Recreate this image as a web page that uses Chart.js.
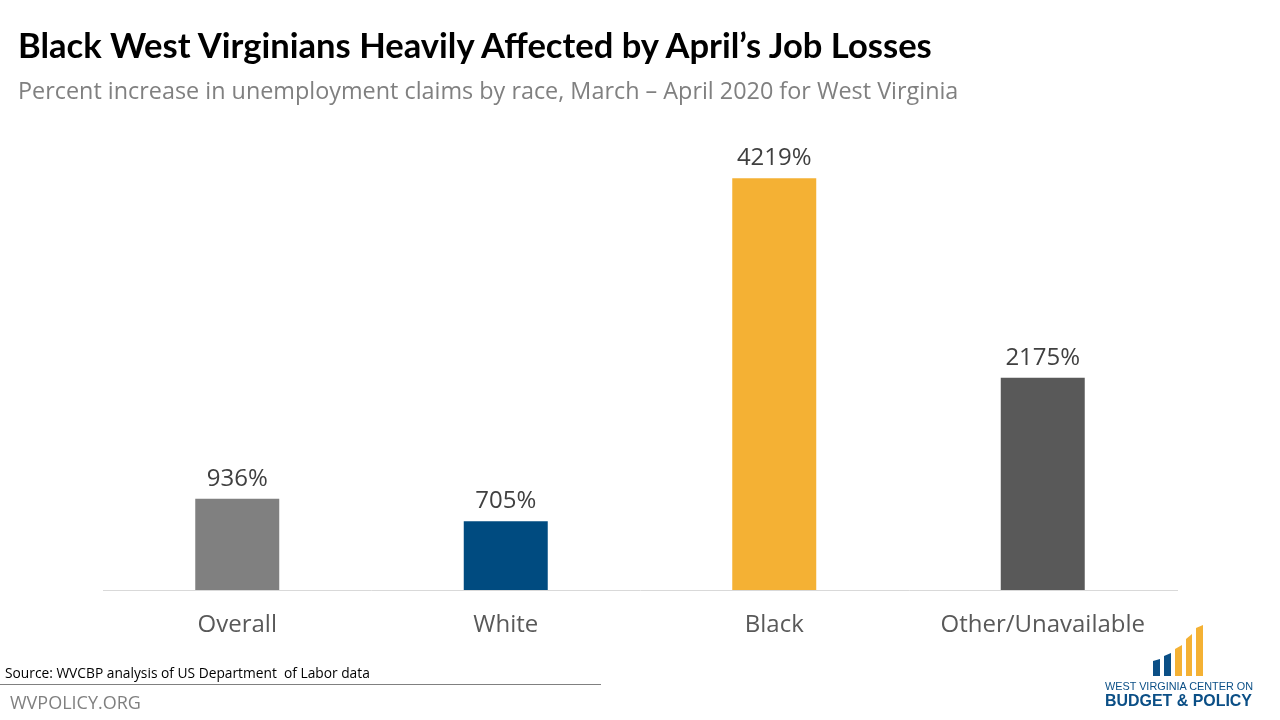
<!DOCTYPE html>
<html>
<head>
<meta charset="utf-8">
<script src="https://cdn.jsdelivr.net/npm/chart.js@4.4.1/dist/chart.umd.min.js"></script>
<style>
  html,body{margin:0;padding:0;background:#fff;}
  #wrap{position:relative;width:1280px;height:720px;overflow:hidden;background:#fff;}
  .t{position:absolute;white-space:pre;line-height:1;}
  #title{left:18px;top:28px;font-family:Lato,"Open Sans",sans-serif;font-weight:700;color:#000;font-size:34px;}
  #sub{left:18px;top:79px;font-family:"Open Sans",sans-serif;color:#808080;font-size:23px;}
  #src{left:5px;top:666px;font-family:"Open Sans",sans-serif;color:#000;font-size:13px;}
  #web{left:10px;top:693px;font-family:"Open Sans",sans-serif;color:#808080;font-size:18px;}
  #rule{position:absolute;left:0;top:684px;width:601px;height:1px;background:#808080;}
  #chart{position:absolute;left:0;top:0;}
  #logo{position:absolute;left:1100px;top:622px;}
</style>
</head>
<body>
<div id="wrap">
  <canvas id="chart" width="1280" height="720"></canvas>
  <div class="t" id="title">Black West Virginians Heavily Affected by April’s Job Losses</div>
  <div class="t" id="sub">Percent increase in unemployment claims by race, March – April 2020 for West Virginia</div>
  <div class="t" id="src">Source: WVCBP analysis of US Department  of Labor data</div>
  <div id="rule"></div>
  <div class="t" id="web">WVPOLICY.ORG</div>
  <svg id="logo" width="160" height="90" viewBox="0 0 160 90">
    <polygon points="53,39 60,37 60,54 53,54" fill="#0B4F86"/>
    <polygon points="64,34 71,31 71,54 64,54" fill="#0B4F86"/>
    <polygon points="75,27 82,23 82,54 75,54" fill="#F4B134"/>
    <polygon points="86,17 92,12 92,54 86,54" fill="#F4B134"/>
    <polygon points="96,6 103,3 103,54 96,54" fill="#F4B134"/>
    <text x="5" y="68" font-family="Liberation Sans, Arial, sans-serif" font-size="10.2" fill="#0B4F86" textLength="148" lengthAdjust="spacingAndGlyphs">WEST VIRGINIA CENTER ON</text>
    <text x="5" y="84" font-family="Liberation Sans, Arial, sans-serif" font-weight="700" font-size="17" fill="#0B4F86" textLength="147" lengthAdjust="spacingAndGlyphs">BUDGET &amp; POLICY</text>
  </svg>
</div>
<script>
const categories = ["Overall", "White", "Black", "Other/Unavailable"];
const increasePct = [936, 705, 4219, 2175];
const barColors = ["#808080", "#004B80", "#F4B134", "#595959"];

function fitWidth(id, target){
  const el = document.getElementById(id);
  let fs = parseFloat(getComputedStyle(el).fontSize);
  for(let i=0;i<4;i++){
    const w = el.getBoundingClientRect().width;
    fs = fs * target / w;
    el.style.fontSize = fs + "px";
  }
}
fitWidth("title", 914);
fitWidth("sub", 940);
fitWidth("src", 365);
fitWidth("web", 131);

const labelPlugin = {
  id: "barLabels",
  afterDatasetsDraw(chart){
    const ctx = chart.ctx;
    const meta = chart.getDatasetMeta(0);
    ctx.save();
    ctx.font = '24px "Open Sans", sans-serif';
    ctx.fillStyle = "#404040";
    ctx.textAlign = "center";
    ctx.textBaseline = "alphabetic";
    meta.data.forEach((bar, i) => {
      ctx.fillText(increasePct[i] + "%", bar.x, bar.y - 13);
    });
    ctx.restore();
  }
};

new Chart(document.getElementById("chart"), {
  type: "bar",
  data: {
    labels: categories,
    datasets: [{
      data: increasePct,
      backgroundColor: barColors,
      borderWidth: 0,
      categoryPercentage: 1,
      barPercentage: 0.3128
    }]
  },
  options: {
    responsive: false,
    animation: false,
    layout: { padding: { left: 103, right: 103, top: 102, bottom: 70 } },
    plugins: { legend: { display: false }, tooltip: { enabled: false } },
    scales: {
      y: { display: false, min: 0, max: 5000 },
      x: {
        afterFit(scale){ scale.height = 60; },
        grid: { display: false, drawTicks: false },
        border: { display: true, color: "#D9D9D9", width: 1 },
        ticks: {
          padding: 21,
          color: "#595959",
          font: { family: "Open Sans", size: 24 }
        }
      }
    }
  },
  plugins: [labelPlugin]
});
</script>
</body>
</html>
